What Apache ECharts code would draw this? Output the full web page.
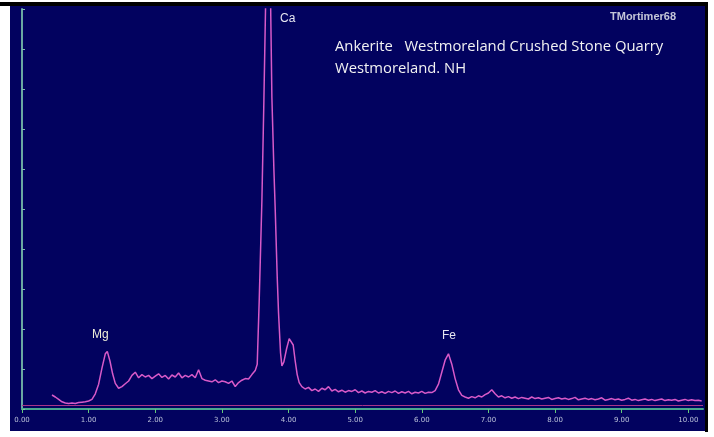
<!DOCTYPE html>
<html>
<head>
<meta charset="utf-8">
<script src="https://cdn.jsdelivr.net/npm/echarts@6/dist/echarts.min.js"></script>
<style>
html,body{margin:0;padding:0;background:#ffffff;}
#chart{width:714px;height:437px;}
</style>
</head>
<body>
<div id="chart"></div>
<script>
// ---- Data (energy in keV, counts) ----
const lowE = [0.45,0.50,0.55,0.60,0.65,0.70,0.75,0.80,0.85,0.90,0.95,1.00,1.05];
const lowC = [35,30,24,18,15,14,15,14,16,17,18,20,24];

const mgE = [1.10,1.15,1.20,1.25,1.28,1.32,1.36,1.40,1.45,1.50,1.55];
const mgC = [38,62,102,138,144,120,88,64,52,56,63];

const bg1E = [1.60,1.65,1.70,1.75,1.80,1.85,1.90,1.95,2.00,2.05,
              2.10,2.15,2.20,2.25,2.30,2.35,2.40,2.45,2.50,2.55,
              2.60,2.65,2.70,2.75,2.80,2.85,2.90,2.95,3.00,3.05,
              3.10,3.15,3.20,3.25,3.30,3.35,3.40,3.45];
const bg1C = [70,84,92,78,86,80,84,76,82,88,
              79,84,75,85,80,90,78,84,80,86,
              78,98,76,72,70,68,73,66,70,68,
              64,70,56,66,72,76,75,86];

const caE = [3.50,3.53,3.56,3.60,3.63,3.66,3.68,3.70,3.72,3.75,
             3.78,3.80,3.83,3.85,3.88,3.90,3.93,3.97,4.01,4.04,
             4.07,4.10,4.13,4.16];
const caC = [96,112,272,520,770,1050,1300,1300,1150,780,
             600,500,330,240,140,108,118,150,176,180,
             160,120,86,66];

const bg2E = [4.20,4.25,4.30,4.35,4.40,4.45,4.50,4.55,4.60,4.65,
              4.70,4.75,4.80,4.85,4.90,4.95,5.00,5.05,5.10,5.15,
              5.20,5.25,5.30,5.35,5.40,5.45,5.50,5.55,5.60,5.65,
              5.70,5.75,5.80,5.85,5.90,5.95,6.00,6.05,6.10,6.15,
              6.20];
const bg2C = [56,50,54,46,50,44,52,48,56,45,
              49,43,47,42,46,44,48,41,45,40,
              44,42,46,40,43,39,44,41,45,39,
              43,40,44,38,42,40,44,39,42,41,
              46];

const feE = [6.25,6.30,6.35,6.40,6.45,6.50,6.55,6.60,6.65,6.70,
             6.75,6.80,6.85,6.90,6.95,7.00,7.05,7.10,7.15,7.20,
             7.25,7.30,7.35,7.40,7.45,7.50];
const feC = [62,92,122,138,112,76,48,34,30,27,
             31,28,33,30,36,40,48,38,30,33,
             28,31,27,30,26,29];

const tailE = [7.55,7.60,7.65,7.70,7.75,7.80,7.85,7.90,7.95,8.00,
               8.05,8.10,8.15,8.20,8.25,8.30,8.35,8.40,8.45,8.50,
               8.55,8.60,8.65,8.70,8.75,8.80,8.85,8.90,8.95,9.00,
               9.05,9.10,9.15,9.20,9.25,9.30,9.35,9.40,9.45,9.50,
               9.55,9.60,9.65,9.70,9.75,9.80,9.85,9.90,9.95,10.00,
               10.05,10.10,10.15,10.20];
const tailC = [27,25,30,26,28,25,27,29,24,26,
               28,25,27,24,26,29,23,25,27,24,
               26,23,25,28,22,24,26,23,25,22,
               24,27,22,24,21,23,25,22,24,21,
               23,25,21,23,22,24,20,22,24,21,
               23,21,22,20];

const tickValues = [0,1,2,3,4,5,6,7,8,9,10];
const peakLabels = ['Mg','Ca','Fe'];
const titleLine1 = 'Ankerite   Westmoreland Crushed Stone Quarry';
const titleLine2 = 'Westmoreland. NH';
const credit = 'TMortimer68';

// ---- Build ----
const energy = [].concat(lowE, mgE, bg1E, caE, bg2E, feE, tailE);
const counts = [].concat(lowC, mgC, bg1C, caC, bg2C, feC, tailC);
const seriesData = energy.map((e, i) => [e, counts[i]]);

const chart = echarts.init(document.getElementById('chart'), null, {renderer: 'canvas'});
const axisGreen = '#4aa88e';
const tickGreen = '#62c87a';

chart.setOption({
  animation: false,
  backgroundColor: '#ffffff',
  graphic: [
    {type: 'rect', z: -10, silent: true, shape: {x: 10, y: 6, width: 695, height: 425}, style: {fill: '#02025f'}},
    {type: 'rect', z: -9, silent: true, shape: {x: 0, y: 2, width: 708, height: 4}, style: {fill: '#000000'}},
    {type: 'rect', z: -9, silent: true, shape: {x: 705, y: 2, width: 3, height: 430}, style: {fill: '#000000'}},
    {type: 'text', z: 10, left: 280, top: 13, style: {text: peakLabels[1], fill: '#e6e6f0', font: '12px "Liberation Sans", Arial, sans-serif'}},
    {type: 'text', z: 10, left: 92, top: 329, style: {text: peakLabels[0], fill: '#eeeed8', font: '12px "Liberation Sans", Arial, sans-serif'}},
    {type: 'text', z: 10, left: 442, top: 330, style: {text: peakLabels[2], fill: '#e6e6f0', font: '12px "Liberation Sans", Arial, sans-serif'}},
    {type: 'text', z: 10, left: 335, top: 39, style: {text: titleLine1, fill: '#f2f2f2', font: '14.8px "Open Sans", sans-serif'}},
    {type: 'text', z: 10, left: 335, top: 61, style: {text: titleLine2, fill: '#f2f2f2', font: '14.8px "Open Sans", sans-serif'}},
    {type: 'text', z: 10, left: 610, top: 11, style: {text: credit, fill: '#c4c6d8', font: 'bold 11px "Liberation Sans Narrow", "Liberation Sans", sans-serif'}}
  ],
  grid: {left: 22, right: 11, top: 9, bottom: 28, containLabel: false},
  xAxis: {
    type: 'value',
    min: 0,
    max: 10.22,
    axisLine: {show: true, lineStyle: {color: axisGreen, width: 2}},
    axisTick: {show: true, customValues: tickValues, length: 4, lineStyle: {color: tickGreen, width: 1}},
    axisLabel: {show: true, customValues: tickValues, color: '#b9c0d8', fontSize: 7, margin: 8,
                fontFamily: 'DejaVu Sans', formatter: v => v.toFixed(2)},
    splitLine: {show: false}
  },
  yAxis: {
    type: 'value',
    min: 0,
    max: 1000,
    interval: 100,
    axisLine: {show: true, lineStyle: {color: '#6aa8a2', width: 2}},
    axisTick: {show: true, inside: true, length: 3, lineStyle: {color: '#7fc0b0', width: 1}},
    axisLabel: {show: false},
    splitLine: {show: false}
  },
  series: [{
    type: 'line',
    data: seriesData,
    showSymbol: false,
    symbol: 'none',
    clip: true,
    lineStyle: {color: '#d85ac8', width: 1.5},
    markLine: {
      silent: true,
      symbol: 'none',
      label: {show: false},
      lineStyle: {color: '#a8338a', width: 1, type: 'solid', opacity: 1},
      data: [{yAxis: 10}]
    }
  }]
});
</script>
</body>
</html>
